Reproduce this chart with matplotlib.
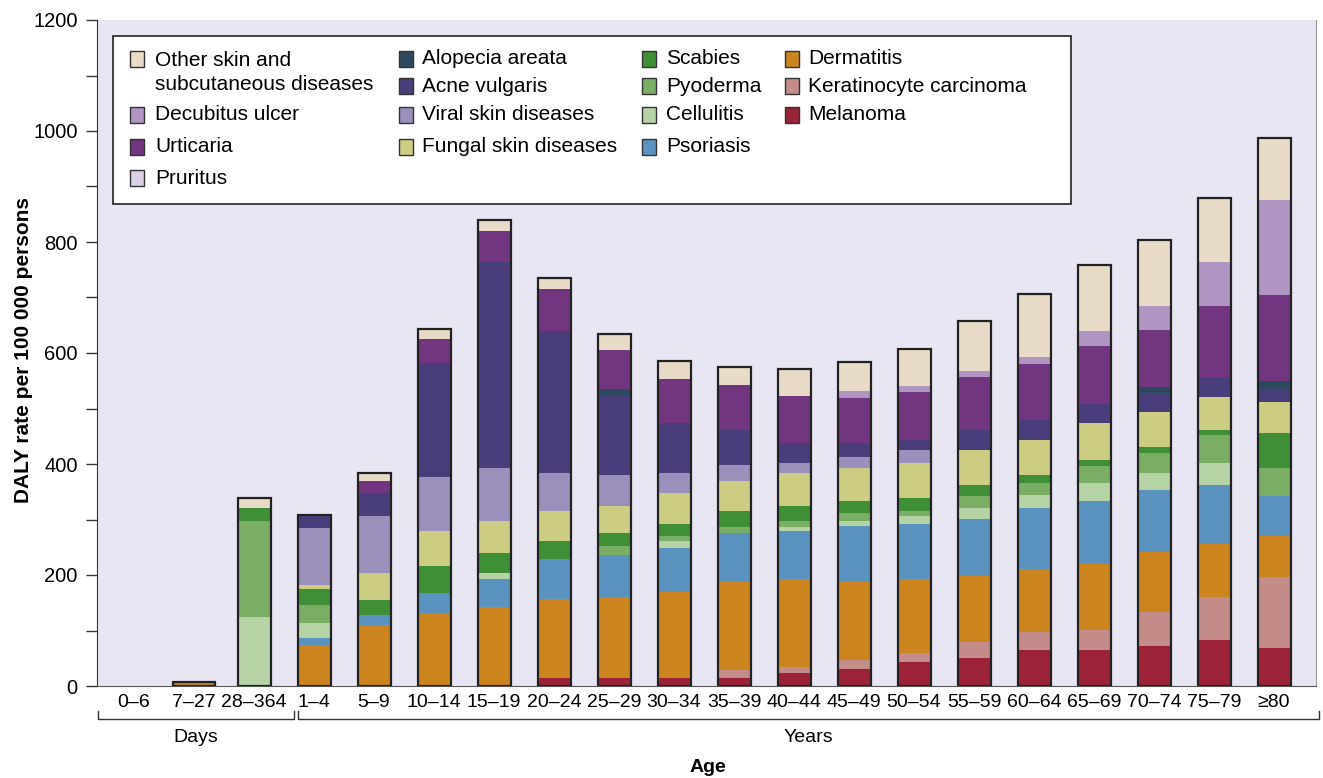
import matplotlib
matplotlib.use("Agg")
import matplotlib.pyplot as plt
from matplotlib.patches import Rectangle
from matplotlib.lines import Line2D
import numpy as np

plt.rcParams['font.family'] = ['Liberation Sans', 'DejaVu Sans']

# age groups (first three are in days, the rest in years)
ages = ['0–6', '7–27', '28–364', '1–4', '5–9', '10–14', '15–19', '20–24', '25–29',
        '30–34', '35–39', '40–44', '45–49', '50–54', '55–59', '60–64', '65–69',
        '70–74', '75–79', '≥80']

# DALY rate per 100 000 (bottom to top)
melanoma     = [0, 0, 0, 0, 0, 0, 0, 15, 15, 15, 15, 23, 31, 43, 50, 65, 65, 72, 83, 68]
keratinocyte = [0, 0, 0, 0, 0, 0, 0, 0, 0, 0, 14, 11, 16, 16, 29, 32, 36, 61, 77, 128]
dermatitis   = [0, 7, 0, 74, 110, 131, 142, 141, 145, 155, 159, 159, 141, 133, 120, 114, 119, 108, 96, 74]
psoriasis    = [0, 0, 0, 13, 18, 36, 51, 73, 76, 79, 88, 86, 101, 100, 102, 110, 113, 112, 106, 72]
cellulitis   = [0, 0, 124, 27, 0, 0, 11, 0, 0, 12, 0, 7, 8, 14, 20, 23, 33, 31, 40, 0]
pyoderma     = [0, 0, 174, 32, 0, 0, 0, 0, 17, 10, 10, 11, 15, 9, 21, 22, 30, 36, 50, 51]
scabies      = [0, 0, 23, 29, 27, 49, 36, 32, 23, 21, 29, 27, 21, 24, 20, 14, 11, 11, 9, 63]
fungal       = [0, 0, 0, 7, 49, 64, 57, 54, 49, 56, 54, 60, 60, 63, 63, 63, 67, 63, 60, 56]
viral        = [0, 0, 0, 103, 102, 97, 96, 69, 55, 36, 29, 18, 20, 23, 0, 0, 0, 0, 0, 0]
acne         = [0, 0, 0, 23, 42, 205, 371, 256, 144, 90, 64, 36, 25, 18, 36, 36, 34, 34, 36, 23]
alopecia     = [0, 0, 0, 0, 0, 0, 0, 0, 11, 0, 0, 0, 0, 0, 0, 0, 0, 10, 0, 15]
pruritus     = [0] * 20
urticaria    = [0, 0, 0, 0, 21, 43, 56, 75, 70, 79, 80, 85, 81, 87, 96, 101, 105, 104, 128, 155]
decubitus    = [0, 0, 0, 0, 0, 0, 0, 0, 0, 0, 0, 0, 13, 11, 11, 13, 27, 43, 79, 170]
other        = [0, 0, 17, 0, 15, 18, 20, 21, 30, 32, 33, 48, 52, 66, 90, 113, 119, 118, 116, 112]

series = [
    ('Melanoma', melanoma, '#9b2237'),
    ('Keratinocyte carcinoma', keratinocyte, '#c48c89'),
    ('Dermatitis', dermatitis, '#cc841e'),
    ('Psoriasis', psoriasis, '#5a92c0'),
    ('Cellulitis', cellulitis, '#b6d3a6'),
    ('Pyoderma', pyoderma, '#7bae65'),
    ('Scabies', scabies, '#3f8f37'),
    ('Fungal skin diseases', fungal, '#cccd82'),
    ('Viral skin diseases', viral, '#9a90bb'),
    ('Acne vulgaris', acne, '#4a3d7b'),
    ('Alopecia areata', alopecia, '#2c4a5e'),
    ('Pruritus', pruritus, '#dcd0e6'),
    ('Urticaria', urticaria, '#72357f'),
    ('Decubitus ulcer', decubitus, '#b094c2'),
    ('Other skin and\nsubcutaneous diseases', other, '#e8dcc8'),
]

W, H = 1323, 778
fig = plt.figure(figsize=(W / 100, H / 100), dpi=100)


def fx(px):
    return px / W


def fy(py):
    return 1 - py / H


ax = fig.add_axes([fx(97), fy(686), fx(1316) - fx(97), fy(20) - fy(686)])
ax.set_facecolor('#e8e6f3')

x = np.arange(len(ages))
widths = np.full(len(ages), 0.55)
widths[1] = 0.7

bottom = np.zeros(len(ages))
for name, vals, col in series:
    vals = np.array(vals, dtype=float)
    ax.bar(x, vals, widths, bottom=bottom, color=col, edgecolor='none', zorder=2)
    bottom += vals

# dark outline round each stack
keep = bottom > 0
ax.bar(x[keep], bottom[keep], widths[keep], fill=False, edgecolor='#222222',
       linewidth=1.6, zorder=3)

ax.set_xlim(-0.617, 19.7)
ax.set_ylim(0, 1200)
ax.set_yticks(np.arange(0, 1201, 200))
ax.set_yticks(np.arange(100, 1200, 200), minor=True)
ax.tick_params(axis='y', which='both', length=8, width=1, color='#333333',
               labelsize=14.5, pad=6)
ax.set_xticks(x)
ax.set_xticklabels(ages)
ax.tick_params(axis='x', length=0, labelsize=14, pad=6)

ax.spines['top'].set_visible(False)
ax.spines['right'].set_color('#999999')
ax.spines['left'].set_color('#333333')
ax.spines['bottom'].set_color('#555555')

ax.set_ylabel('DALY rate per 100 000 persons', fontsize=15, fontweight='bold')
ax.yaxis.set_label_coords(-0.0525, 0.5045)

# brackets under the tick labels
for x0, x1 in [(98, 294), (298, 1319)]:
    fig.add_artist(Line2D([fx(x0), fx(x0), fx(x1), fx(x1)],
                          [fy(711), fy(719), fy(719), fy(711)],
                          transform=fig.transFigure, color='#333333', lw=1))
fig.text(fx(196), fy(737), 'Days', ha='center', va='center', fontsize=14)
fig.text(fx(808), fy(737), 'Years', ha='center', va='center', fontsize=14)
fig.text(fx(708), fy(768), 'Age', ha='center', va='center', fontsize=14,
         fontweight='bold')

# legend box drawn by hand so rows line up like the original
fig.add_artist(Rectangle((fx(113), fy(204)), fx(1071) - fx(113), fy(36) - fy(204),
                         transform=fig.transFigure, facecolor='white',
                         edgecolor='#222222', lw=1.2, zorder=5))
handle_x = [130, 399, 642, 785]
text_x = [155, 422, 666, 808]
rows = [59, 86, 115, 147, 178]
slots = {
    'Other skin and\nsubcutaneous diseases': (0, 0), 'Decubitus ulcer': (0, 2),
    'Urticaria': (0, 3), 'Pruritus': (0, 4),
    'Alopecia areata': (1, 0), 'Acne vulgaris': (1, 1),
    'Viral skin diseases': (1, 2), 'Fungal skin diseases': (1, 3),
    'Scabies': (2, 0), 'Pyoderma': (2, 1), 'Cellulitis': (2, 2), 'Psoriasis': (2, 3),
    'Dermatitis': (3, 0), 'Keratinocyte carcinoma': (3, 1), 'Melanoma': (3, 2),
}
for name, vals, col in series:
    c, r = slots[name]
    yc = rows[r]
    fig.add_artist(Rectangle((fx(handle_x[c]), fy(yc + 8)), fx(14), 16 / H,
                             transform=fig.transFigure, facecolor=col,
                             edgecolor='#333333', lw=1, zorder=6))
    if '\n' in name:
        yc = (rows[0] + rows[1]) / 2
    fig.text(fx(text_x[c]), fy(yc), name, ha='left', va='center', fontsize=15,
             linespacing=1.3, zorder=7)

fig.savefig('out.png', dpi=100)
